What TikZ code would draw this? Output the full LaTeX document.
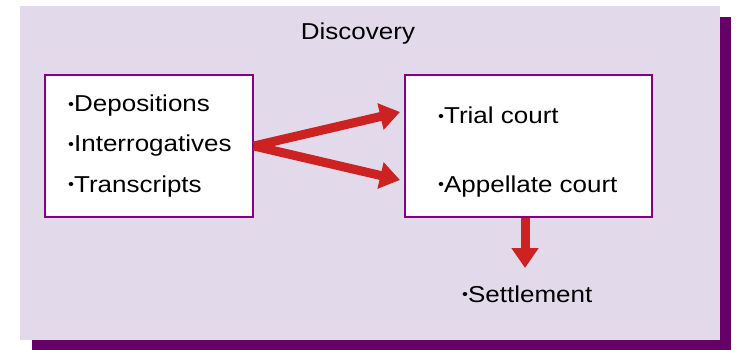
\documentclass[tikz,border=0pt]{standalone}
\usepackage{fontspec}
\setmainfont{Liberation Sans}[FakeStretch=1.13]
\usetikzlibrary{arrows.meta}
\definecolor{lavender}{HTML}{E2DAEA}
\definecolor{shadowpurple}{HTML}{660066}
\definecolor{boxline}{HTML}{850085}
\definecolor{arrowred}{HTML}{CC2222}
\newcommand{\bul}{\raisebox{2.5pt}{\fontsize{15}{15}\selectfont•}}
\tikzset{
    every node/.style={inner sep=0pt, font=\fontsize{23}{28}\selectfont}
}
\tikzset{
    panel/.style={rectangle, draw=boxline, line width=1.8pt, fill=white,
    	minimum height=142pt},
    item/.style={anchor=base west}
}
\tikzset{
    flow/.style={draw=arrowred, line width=9pt,
    	-{Triangle[width=26pt,length=20pt]}}
}

\begin{document}
\begin{tikzpicture}[x=1pt,y=-1pt]
	\useasboundingbox (0,0) rectangle (736,350);
	\fill[shadowpurple] (32,17) rectangle (731,350);
	\fill[lavender] (20,6) rectangle (720,340);

	\node[anchor=base] (title) at (358,40) {Discovery};
	\node[panel, minimum width=208pt] (src) at (149,146) {};
	\node[panel, minimum width=247pt] (dst) at (528.5,146) {};

	\node[item] (dep) at (68,112) {\bul Depositions};
	\node[item] (int) at (68,152) {\bul Interrogatives};
	\node[item] (tra) at (68,192) {\bul Transcripts};
	\node[item] (trial) at (438,124) {\bul Trial court};
	\node[item] (app) at (438,192) {\bul Appellate court};
	\node[item] (settle) at (462,302) {\bul Settlement};

	\coordinate (t1) at (400,112);
	\coordinate (t2) at (400,180);
	\coordinate (t3) at (525,268);
	\draw[flow] (src.east) -- (t1);
	\draw[flow] (src.east) -- (t2);
	\draw[flow] (dst.south -| t3) -- (t3);
\end{tikzpicture}
\end{document}
